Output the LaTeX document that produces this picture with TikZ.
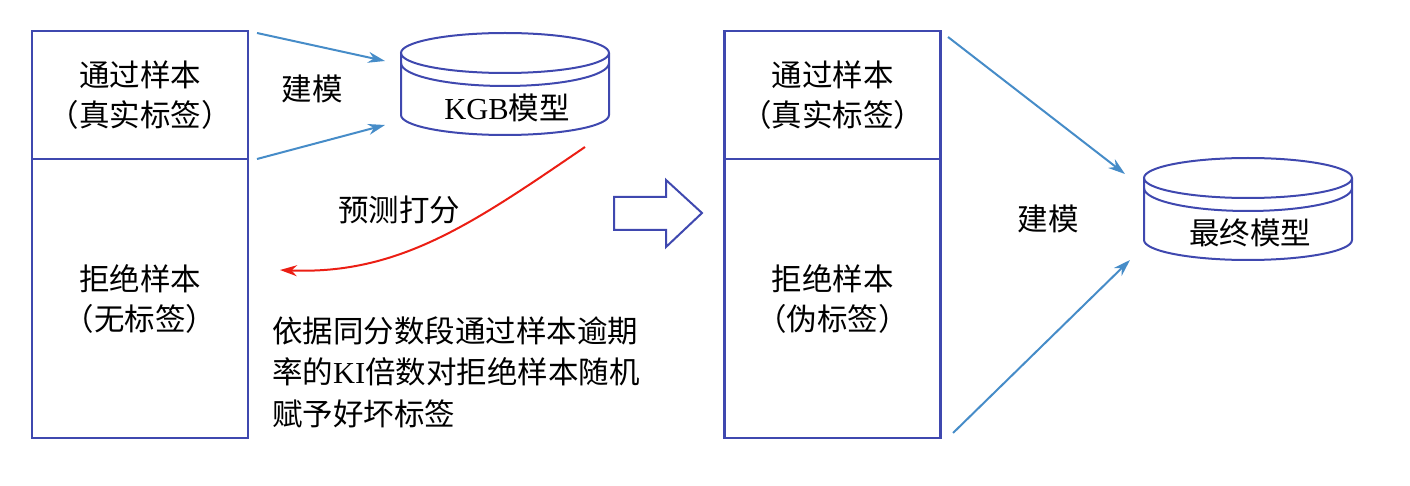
\documentclass[tikz,border=0pt]{standalone}
\usepackage{fontspec}
\setmainfont{Liberation Serif}
\newfontfamily\cjk{Noto Sans CJK SC}
\usetikzlibrary{arrows.meta}
\definecolor{boxblue}{RGB}{63,72,175}
\definecolor{arrowblue}{RGB}{70,140,200}
\definecolor{predred}{RGB}{235,30,20}

\begin{document}
\begin{tikzpicture}[x=1pt,y=-1pt,
  txt/.style={inner sep=0pt, font=\fontsize{30.5}{40}\selectfont\cjk, align=center},
  samplebox/.style={txt, draw=boxblue, line width=2.4pt, minimum width=216pt},
  flow/.style={arrowblue, line width=2pt, -{Stealth[length=17pt,width=11pt]}},
  predict/.style={predred, line width=2pt, -{Stealth[length=17pt,width=11pt]}},
  pics/drum/.style={code={
    \draw[boxblue, line width=2pt] (-104,0) -- (-104,62)
      arc[start angle=180, end angle=0, x radius=104, y radius=20] -- (104,0);
    \draw[boxblue, line width=2pt] (0,0) ellipse [x radius=104, y radius=20];
    \draw[boxblue, line width=2pt] (-104,10)
      arc[start angle=180, end angle=0, x radius=104, y radius=23];
    \node[txt] (-label) at (2,55) {#1};
  }}
]
\useasboundingbox (0,0) rectangle (1410,486);

% left column: samples before relabelling
\node[samplebox, minimum height=128pt] (passL) at (140,95) {通过样本\\（真实标签）};
\node[samplebox, minimum height=279pt] (rejL) at (140,298.5) {拒绝样本\\（无标签）};

% right column: samples after relabelling
\node[samplebox, minimum height=128pt] (passR) at (832.5,95) {通过样本\\（真实标签）};
\node[samplebox, minimum height=279pt] (rejR) at (832.5,298.5) {拒绝样本\\（伪标签）};

% models
\pic (kgb) at (505,53) {drum={{\rmfamily KGB}模型}};
\pic (final) at (1248,178) {drum={最终模型}};

% labels
\node[txt] (buildL) at (312,89) {建模};
\node[txt] (buildR) at (1048,219) {建模};
\node[txt] (score) at (399,210) {预测打分};
\node[txt, align=left, font=\fontsize{30.5}{41.5}\selectfont\cjk, anchor=west] (rule) at (272,372)
  {依据同分数段通过样本逾期\\率的{\rmfamily KI}倍数对拒绝样本随机\\赋予好坏标签};

% connector end points
\coordinate (s1) at (257,33);
\coordinate (s2) at (257,159);
\coordinate (e1) at (385,61);
\coordinate (e2) at (385,125);
\coordinate (s3) at (948,37);
\coordinate (s4) at (953,433);
\coordinate (e3) at (1125,174);
\coordinate (e4) at (1130,260);
\coordinate (ps) at (585,147);
\coordinate (pe) at (280,270);

\draw[flow] (s1) -- (e1);
\draw[flow] (s2) -- (e2);
\draw[flow] (s3) -- (e3);
\draw[flow] (s4) -- (e4);
\draw[predict] (ps) .. controls (475,222) and (400,275) .. (pe);

% hollow block arrow between the two stages
\draw[boxblue, line width=2pt, line join=miter]
  (614,197) -- (666,197) -- (666,180) -- (702,213) -- (666,247) -- (666,230) -- (614,230) -- cycle;
\end{tikzpicture}
\end{document}
